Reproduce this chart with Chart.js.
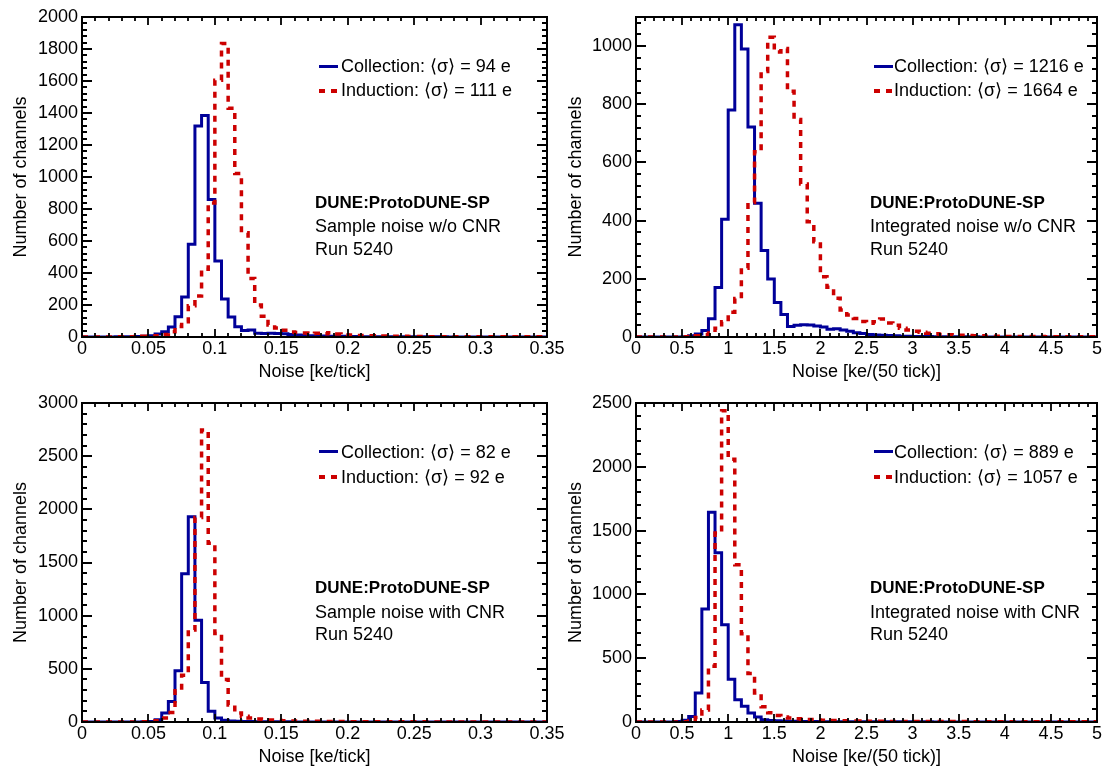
<!DOCTYPE html>
<html>
<head>
<meta charset="utf-8">
<script src="https://cdn.jsdelivr.net/npm/chart.js@4.4.1/dist/chart.umd.min.js"></script>
<style>
  html, body { margin: 0; padding: 0; background: #fff; }
  #page { position: relative; width: 1105px; height: 769px; overflow: hidden; font-family: "Liberation Sans", Arial, Helvetica, sans-serif; }
  canvas { position: absolute; }
  .t { position: absolute; font-size: 18px; line-height: 18px; white-space: nowrap; color: #000; }
  .b { font-weight: bold; font-size: 17px; }
  .solid { position: absolute; width: 19px; height: 3px; background: #000099; }
  .dash { position: absolute; width: 19px; height: 4px; background: repeating-linear-gradient(to right, #cc0000 0 6px, transparent 6px 12px); }
</style>
</head>
<body>
<div id="page">
  <canvas id="tl" width="580" height="390" style="left:0;top:0"></canvas>
  <canvas id="tr" width="550" height="390" style="left:555px;top:0"></canvas>
  <canvas id="bl" width="580" height="384" style="left:0;top:385px"></canvas>
  <canvas id="br" width="550" height="384" style="left:555px;top:385px"></canvas>

  <div class="solid" style="left:319px;top:65px"></div>
  <div class="t" style="left:341px;top:57px">Collection: ⟨σ⟩ = 94 e</div>
  <div class="dash" style="left:319px;top:89px"></div>
  <div class="t" style="left:341px;top:81px">Induction: ⟨σ⟩ = 111 e</div>
  <div class="t b" style="left:315px;top:194px">DUNE:ProtoDUNE-SP</div>
  <div class="t" style="left:315px;top:217px">Sample noise w/o CNR</div>
  <div class="t" style="left:315px;top:240px">Run 5240</div>

  <div class="solid" style="left:874px;top:65px"></div>
  <div class="t" style="left:894px;top:57px">Collection: ⟨σ⟩ = 1216 e</div>
  <div class="dash" style="left:874px;top:89px"></div>
  <div class="t" style="left:894px;top:81px">Induction: ⟨σ⟩ = 1664 e</div>
  <div class="t b" style="left:870px;top:194px">DUNE:ProtoDUNE-SP</div>
  <div class="t" style="left:870px;top:217px">Integrated noise w/o CNR</div>
  <div class="t" style="left:870px;top:240px">Run 5240</div>

  <div class="solid" style="left:319px;top:450px"></div>
  <div class="t" style="left:341px;top:443px">Collection: ⟨σ⟩ = 82 e</div>
  <div class="dash" style="left:319px;top:475px"></div>
  <div class="t" style="left:341px;top:468px">Induction: ⟨σ⟩ = 92 e</div>
  <div class="t b" style="left:315px;top:579px">DUNE:ProtoDUNE-SP</div>
  <div class="t" style="left:315px;top:603px">Sample noise with CNR</div>
  <div class="t" style="left:315px;top:625px">Run 5240</div>

  <div class="solid" style="left:874px;top:450px"></div>
  <div class="t" style="left:894px;top:443px">Collection: ⟨σ⟩ = 889 e</div>
  <div class="dash" style="left:874px;top:475px"></div>
  <div class="t" style="left:894px;top:468px">Induction: ⟨σ⟩ = 1057 e</div>
  <div class="t b" style="left:870px;top:579px">DUNE:ProtoDUNE-SP</div>
  <div class="t" style="left:870px;top:603px">Integrated noise with CNR</div>
  <div class="t" style="left:870px;top:625px">Run 5240</div>
</div>
<script>
// x ranges of the two kinds of histogram (70 bins each)
const sampleRange = [0, 0.35];
const integratedRange = [0, 5];

// channel counts per bin
const sampleNoCnrCollection = [0,0,0,0,0,1,1,2,3,5, 8,18,33,63,127,250,580,1318,1385,860, 475,238,125,64,40,44,24,22,24,22, 20,16,12,10,8,7,6,5,4,4, 3,3,2,2,2,2,1,1,1,1, 1,1,1,1,1,0,0,0,0,0, 0,0,0,0,0,0,0,0,0,0];
const sampleNoCnrInduction = [0,0,0,0,0,1,1,2,3,4, 5,8,15,33,65,96,195,256,423,838, 1605,1835,1430,1022,652,366,200,130,75,57, 42,32,28,25,22,24,20,26,18,14, 12,10,9,8,7,6,5,4,4,3, 3,3,2,2,2,2,2,2,2,1, 1,1,1,1,1,1,1,1,1,1];

const integNoCnrCollection = [0,0,0,0,0,0,0,1,4,10, 22,63,170,405,780,1073,990,722,460,297, 199,119,77,36,40,42,41,38,34,27, 28,24,20,15,12,9,7,6,5,4, 3,3,2,2,2,1,1,1,1,1, 1,1,0,0,0,0,0,0,0,0, 0,0,0,0,0,0,0,0,0,0];
const integNoCnrInduction = [0,0,0,0,0,0,0,1,2,4, 8,14,30,52,85,132,236,462,637,913, 1030,980,992,845,748,526,396,327,207,171, 133,93,76,64,53,47,52,62,48,40, 30,24,20,16,13,11,9,8,7,6, 5,4,4,3,3,3,2,2,2,2, 2,2,1,1,1,1,1,1,1,1];

const sampleCnrCollection = [0,0,0,0,0,0,0,0,1,2, 5,22,84,193,483,1394,1931,958,371,100, 37,16,10,7,5,4,3,3,2,2, 2,2,1,1,1,1,1,1,1,1, 1,1,1,0,0,0,0,0,0,0, 0,0,0,0,0,0,0,0,0,0, 0,0,0,0,0,0,0,0,0,0];
const sampleCnrInduction = [0,0,0,0,0,0,0,0,1,2, 4,12,37,90,295,440,866,1924,2745,1680, 833,400,160,84,53,37,28,22,18,15, 12,10,9,8,7,6,5,5,4,4, 3,3,3,3,2,2,2,2,2,2, 2,2,2,1,1,1,1,1,1,1, 1,1,1,1,1,1,1,1,1,1];

const integCnrCollection = [0,0,0,0,0,0,3,13,44,227, 886,1643,1327,763,335,175,123,70,39,18, 12,9,7,6,5,4,4,3,2,2, 2,2,2,2,2,2,1,1,1,1, 1,1,1,1,1,0,0,0,0,0, 0,0,0,0,0,0,0,0,0,0, 0,0,0,0,0,0,0,0,0,0];
const integCnrInduction = [0,0,0,0,0,0,0,2,8,35, 95,436,1481,2440,2060,1233,692,380,228,120, 72,50,40,32,26,22,19,16,14,12, 11,10,9,8,7,6,5,5,4,4, 4,3,3,3,3,3,3,3,3,3, 2,2,2,2,2,2,2,2,2,2, 2,2,2,2,2,2,2,2,2,2];

const FONT = '"Liberation Sans", Arial, Helvetica, sans-serif';

// one point per bin low edge plus the last high edge, drawn as steps
function histPoints(values, range) {
  const w = (range[1] - range[0]) / values.length;
  const pts = values.map((v, i) => ({x: range[0] + i * w, y: v}));
  pts.push({x: range[1], y: values[values.length - 1]});
  return pts;
}

// ROOT style frame with ticks pointing inwards on all four sides
const innerTicks = {
  id: 'innerTicks',
  afterDatasetsDraw(chart, args, o) {
    const {ctx, chartArea: a, scales: {x, y}} = chart;
    ctx.save();
    ctx.strokeStyle = '#000';
    ctx.lineWidth = 1.8;
    ctx.beginPath();
    const nx = Math.floor(x.max / o.xMinor + 1e-6);
    for (let k = 0; k <= nx; k++) {
      const px = Math.round(x.getPixelForValue(k * o.xMinor));
      const len = k % o.xEvery === 0 ? 8 : 4;
      ctx.moveTo(px, a.bottom); ctx.lineTo(px, a.bottom - len);
      ctx.moveTo(px, a.top); ctx.lineTo(px, a.top + len);
    }
    const ny = Math.floor(y.max / o.yMinor + 1e-6);
    for (let k = 0; k <= ny; k++) {
      const py = Math.round(y.getPixelForValue(k * o.yMinor));
      const len = k % o.yEvery === 0 ? 10 : 5;
      ctx.moveTo(a.left, py); ctx.lineTo(a.left + len, py);
      ctx.moveTo(a.right, py); ctx.lineTo(a.right - len, py);
    }
    ctx.stroke();
    ctx.lineWidth = 2;
    ctx.strokeRect(a.left, a.top, a.right - a.left, a.bottom - a.top);
    ctx.restore();
  }
};

function makePanel(p) {
  const [cl, ct, cw, ch] = p.canvas;
  const [pl, pt, pr, pb] = p.plot;
  new Chart(document.getElementById(p.id), {
    type: 'line',
    data: {
      datasets: [
        {label: 'Induction', data: histPoints(p.induction, p.range), borderColor: '#cc0000',
         borderWidth: 3.5, borderDash: [6, 6], stepped: 'before', pointRadius: 0, fill: false},
        {label: 'Collection', data: histPoints(p.collection, p.range), borderColor: '#000099',
         borderWidth: 3, stepped: 'before', pointRadius: 0, fill: false}
      ]
    },
    options: {
      responsive: false,
      animation: false,
      events: [],
      layout: {autoPadding: false, padding: {top: pt - ct, right: cl + cw - pr, left: 0, bottom: 0}},
      plugins: {
        legend: {display: false},
        tooltip: {enabled: false},
        innerTicks: {xMinor: p.xStep / 5, xEvery: 5, yMinor: p.yStep / 5, yEvery: 5}
      },
      scales: {
        x: {
          type: 'linear', min: p.range[0], max: p.range[1],
          grid: {display: false, drawTicks: false}, border: {display: false},
          ticks: {stepSize: p.xStep, color: '#000', padding: 1, maxRotation: 0, autoSkip: false,
                  font: {family: FONT, size: 18},
                  callback: v => String(+v.toFixed(2))},
          title: {display: true, text: p.xTitle, color: '#000',
                  font: {family: FONT, size: 18, lineHeight: 1.2},
                  padding: {top: 0, bottom: ct + ch - p.titleY - 10.8}},
          afterFit: s => { s.height = ct + ch - pb; }
        },
        y: {
          type: 'linear', min: 0, max: p.yMax,
          grid: {display: false, drawTicks: false}, border: {display: false},
          ticks: {stepSize: p.yStep, includeBounds: false, color: '#000', padding: 4, autoSkip: false,
                  font: {family: FONT, size: 18},
                  callback: v => String(v)},
          title: {display: true, text: 'Number of channels', color: '#000',
                  font: {family: FONT, size: 18, lineHeight: 1.2},
                  padding: {top: 10, bottom: 0}},
          afterFit: s => { s.width = pl - cl; }
        }
      }
    },
    plugins: [innerTicks]
  });
}

makePanel({id: 'tl', canvas: [0, 0, 580, 390], plot: [82, 17, 547, 337], titleY: 372,
  range: sampleRange, xStep: 0.05, yMax: 2000, yStep: 200, xTitle: 'Noise [ke/tick]',
  collection: sampleNoCnrCollection, induction: sampleNoCnrInduction});
makePanel({id: 'tr', canvas: [555, 0, 550, 390], plot: [636, 17, 1097, 337], titleY: 372,
  range: integratedRange, xStep: 0.5, yMax: 1100, yStep: 200, xTitle: 'Noise [ke/(50 tick)]',
  collection: integNoCnrCollection, induction: integNoCnrInduction});
makePanel({id: 'bl', canvas: [0, 385, 580, 384], plot: [82, 403, 547, 722], titleY: 757,
  range: sampleRange, xStep: 0.05, yMax: 3000, yStep: 500, xTitle: 'Noise [ke/tick]',
  collection: sampleCnrCollection, induction: sampleCnrInduction});
makePanel({id: 'br', canvas: [555, 385, 550, 384], plot: [636, 403, 1097, 722], titleY: 757,
  range: integratedRange, xStep: 0.5, yMax: 2500, yStep: 500, xTitle: 'Noise [ke/(50 tick)]',
  collection: integCnrCollection, induction: integCnrInduction});
</script>
</body>
</html>
